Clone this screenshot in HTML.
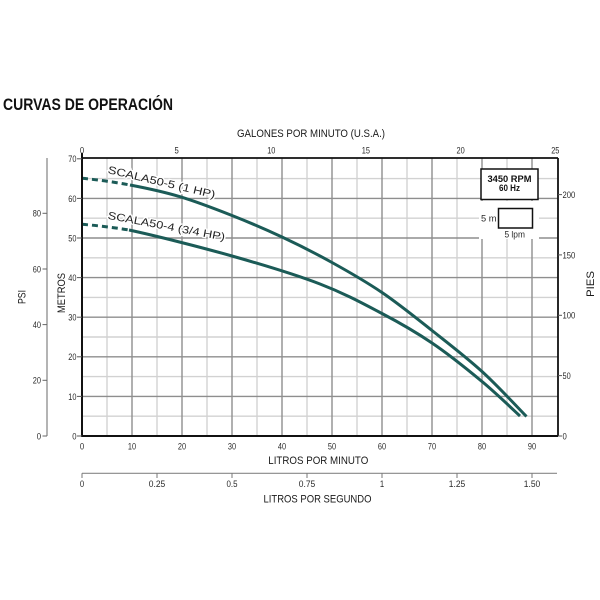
<!DOCTYPE html>
<html><head><meta charset="utf-8"><style>
html,body{margin:0;padding:0;background:#fff;width:600px;height:600px;overflow:hidden}
svg{display:block}
text{font-family:"Liberation Sans",sans-serif;fill:#2a2a2a}
.n{font-size:9.5px}
.t{font-size:11px;fill:#1a1a1a}
</style></head><body>
<svg width="600" height="600" viewBox="0 0 600 600" xmlns="http://www.w3.org/2000/svg">
<rect width="600" height="600" fill="#fff"/>
<!-- title -->
<text x="3" y="110" font-size="16.5" font-weight="bold" style="fill:#111" textLength="170" lengthAdjust="spacingAndGlyphs">CURVAS DE OPERACIÓN</text>

<!-- grid light -->
<g stroke="#d2d2d2" stroke-width="1.4">
<line x1="107" y1="158" x2="107" y2="436"/><line x1="157" y1="158" x2="157" y2="436"/>
<line x1="207" y1="158" x2="207" y2="436"/><line x1="257" y1="158" x2="257" y2="436"/>
<line x1="307" y1="158" x2="307" y2="436"/><line x1="357" y1="158" x2="357" y2="436"/>
<line x1="407" y1="158" x2="407" y2="436"/><line x1="457" y1="158" x2="457" y2="436"/>
<line x1="507" y1="158" x2="507" y2="436"/>
<line x1="82" y1="416.2" x2="558" y2="416.2"/><line x1="82" y1="376.6" x2="558" y2="376.6"/>
<line x1="82" y1="337" x2="558" y2="337"/><line x1="82" y1="297.4" x2="558" y2="297.4"/>
<line x1="82" y1="257.8" x2="558" y2="257.8"/><line x1="82" y1="218.2" x2="558" y2="218.2"/>
<line x1="82" y1="178.6" x2="558" y2="178.6"/>
</g>
<!-- grid dark -->
<g stroke="#8e8e8e" stroke-width="1.4">
<line x1="132" y1="158" x2="132" y2="436"/><line x1="182" y1="158" x2="182" y2="436"/>
<line x1="232" y1="158" x2="232" y2="436"/><line x1="282" y1="158" x2="282" y2="436"/>
<line x1="332" y1="158" x2="332" y2="436"/><line x1="382" y1="158" x2="382" y2="436"/>
<line x1="432" y1="158" x2="432" y2="436"/><line x1="482" y1="158" x2="482" y2="436"/>
<line x1="532" y1="158" x2="532" y2="436"/>
<line x1="82" y1="396.4" x2="558" y2="396.4"/><line x1="82" y1="356.8" x2="558" y2="356.8"/>
<line x1="82" y1="317.2" x2="558" y2="317.2"/><line x1="82" y1="277.6" x2="558" y2="277.6"/>
<line x1="82" y1="238" x2="558" y2="238"/><line x1="82" y1="198.4" x2="558" y2="198.4"/>
</g>

<!-- legend -->
<rect x="479" y="201" width="60" height="38" fill="#fff"/>
<rect x="481" y="169" width="57" height="30.5" fill="#fff" stroke="#111" stroke-width="1.5"/>
<text x="509.5" y="181.8" font-size="8.8" font-weight="bold" text-anchor="middle" style="fill:#111" textLength="44" lengthAdjust="spacingAndGlyphs">3450 RPM</text>
<text x="509.5" y="191" font-size="8.8" font-weight="bold" text-anchor="middle" style="fill:#111" textLength="21" lengthAdjust="spacingAndGlyphs">60 Hz</text>
<rect x="498.5" y="208.5" width="34" height="19.5" fill="#fff" stroke="#111" stroke-width="1.5"/>
<text x="496.5" y="221.3" font-size="9.5" text-anchor="end" textLength="15.5" lengthAdjust="spacingAndGlyphs">5 m</text>
<text x="514.7" y="237.6" font-size="9.5" text-anchor="middle" textLength="20.5" lengthAdjust="spacingAndGlyphs">5 lpm</text>

<!-- curves -->
<g fill="none" stroke="#1b5b57" stroke-width="3">
<path d="M82,178.3 Q106,180.5 130,185" stroke-dasharray="6 4"/>
<path d="M130,185 C146.3,188.1 163,191.6 180,196.7 C197,201.8 215,208.8 232,215.5 C249,222.2 265.3,229.2 282,237 C298.7,244.8 315.3,253.25 332,262.5 C348.7,271.75 365.3,281.2 382,292.5 C398.7,303.8 415.3,317.3 432,330.5 C448.7,343.7 466.25,357.2 482,371.5 C497.75,385.8 519.1,409 526.5,416.5"/>
<path d="M82,224.3 Q105.5,226.2 129,230" stroke-dasharray="6 4"/>
<path d="M129,230 C154,235.3 200.2,247 232,256 C263.8,265 295,274.4 320,284 C345,293.6 363.3,303.7 382,313.5 C400.7,323.3 415.3,331.7 432,343 C448.7,354.3 467.3,369.3 482,381.5 C496.7,393.7 513.7,410.25 520,416"/>
</g>
<!-- curve labels -->
<text transform="translate(107.3,173) rotate(13.3)" font-size="10.7" style="fill:#222;stroke:#fff;stroke-width:2.5;paint-order:stroke" textLength="110" lengthAdjust="spacingAndGlyphs">SCALA50-5 (1 HP)</text>
<text transform="translate(107.3,218.7) rotate(10.6)" font-size="10.7" style="fill:#222;stroke:#fff;stroke-width:2.5;paint-order:stroke" textLength="119" lengthAdjust="spacingAndGlyphs">SCALA50-4 (3/4 HP)</text>

<!-- plot borders -->
<line x1="82" y1="158" x2="558" y2="158" stroke="#111" stroke-width="1.8"/>
<line x1="558" y1="158" x2="558" y2="436" stroke="#111" stroke-width="1.8"/>
<line x1="82" y1="153" x2="82" y2="437" stroke="#111" stroke-width="2"/>
<line x1="81" y1="436" x2="558" y2="436" stroke="#111" stroke-width="2"/>

<!-- METROS ticks -->
<g stroke="#555" stroke-width="1">
<line x1="77" y1="436" x2="82" y2="436"/><line x1="77" y1="396.4" x2="82" y2="396.4"/>
<line x1="77" y1="356.8" x2="82" y2="356.8"/><line x1="77" y1="317.2" x2="82" y2="317.2"/>
<line x1="77" y1="277.6" x2="82" y2="277.6"/><line x1="77" y1="238" x2="82" y2="238"/>
<line x1="77" y1="198.4" x2="82" y2="198.4"/><line x1="77" y1="158.8" x2="82" y2="158.8"/>
</g>
<g class="n" text-anchor="end">
<text x="76.5" y="439.4" textLength="4.3" lengthAdjust="spacingAndGlyphs">0</text>
<text x="76.5" y="399.8" textLength="8.2" lengthAdjust="spacingAndGlyphs">10</text>
<text x="76.5" y="360.2" textLength="8.2" lengthAdjust="spacingAndGlyphs">20</text>
<text x="76.5" y="320.6" textLength="8.2" lengthAdjust="spacingAndGlyphs">30</text>
<text x="76.5" y="281" textLength="8.2" lengthAdjust="spacingAndGlyphs">40</text>
<text x="76.5" y="241.4" textLength="8.2" lengthAdjust="spacingAndGlyphs">50</text>
<text x="76.5" y="201.8" textLength="8.2" lengthAdjust="spacingAndGlyphs">60</text>
<text x="76.5" y="162.2" textLength="8.2" lengthAdjust="spacingAndGlyphs">70</text>
</g>

<!-- PSI axis -->
<line x1="47" y1="158" x2="47" y2="436" stroke="#777" stroke-width="1.1"/>
<g stroke="#666" stroke-width="1">
<line x1="42.5" y1="436" x2="47" y2="436"/><line x1="42.5" y1="380.3" x2="47" y2="380.3"/>
<line x1="42.5" y1="324.6" x2="47" y2="324.6"/><line x1="42.5" y1="269" x2="47" y2="269"/>
<line x1="42.5" y1="213.3" x2="47" y2="213.3"/>
</g>
<g class="n" text-anchor="end">
<text x="41" y="439.4" textLength="4.3" lengthAdjust="spacingAndGlyphs">0</text>
<text x="41" y="383.7" textLength="8.2" lengthAdjust="spacingAndGlyphs">20</text>
<text x="41" y="328" textLength="8.2" lengthAdjust="spacingAndGlyphs">40</text>
<text x="41" y="272.4" textLength="8.2" lengthAdjust="spacingAndGlyphs">60</text>
<text x="41" y="216.7" textLength="8.2" lengthAdjust="spacingAndGlyphs">80</text>
</g>

<!-- PIES ticks -->
<g stroke="#555" stroke-width="1">
<line x1="558" y1="436" x2="562" y2="436"/><line x1="558" y1="375.6" x2="562" y2="375.6"/>
<line x1="558" y1="315.3" x2="562" y2="315.3"/><line x1="558" y1="254.9" x2="562" y2="254.9"/>
<line x1="558" y1="194.6" x2="562" y2="194.6"/>
</g>
<g class="n">
<text x="562.5" y="439.4" textLength="4.3" lengthAdjust="spacingAndGlyphs">0</text>
<text x="562.5" y="379" textLength="8.2" lengthAdjust="spacingAndGlyphs">50</text>
<text x="562.5" y="318.7" textLength="12.8" lengthAdjust="spacingAndGlyphs">100</text>
<text x="562.5" y="258.3" textLength="12.8" lengthAdjust="spacingAndGlyphs">150</text>
<text x="562.5" y="198" textLength="12.8" lengthAdjust="spacingAndGlyphs">200</text>
</g>

<!-- top GPM labels -->
<g class="n" text-anchor="middle">
<text x="82" y="153.5" textLength="4.3" lengthAdjust="spacingAndGlyphs">0</text>
<text x="176.6" y="153.5" textLength="4.3" lengthAdjust="spacingAndGlyphs">5</text>
<text x="271.3" y="153.5" textLength="8.2" lengthAdjust="spacingAndGlyphs">10</text>
<text x="365.9" y="153.5" textLength="8.2" lengthAdjust="spacingAndGlyphs">15</text>
<text x="460.6" y="153.5" textLength="8.2" lengthAdjust="spacingAndGlyphs">20</text>
<text x="555.3" y="153.5" textLength="8.2" lengthAdjust="spacingAndGlyphs">25</text>
</g>

<!-- bottom LPM labels -->
<g class="n" text-anchor="middle">
<text x="82" y="449.5" textLength="4.3" lengthAdjust="spacingAndGlyphs">0</text>
<text x="132" y="449.5" textLength="8.2" lengthAdjust="spacingAndGlyphs">10</text>
<text x="182" y="449.5" textLength="8.2" lengthAdjust="spacingAndGlyphs">20</text>
<text x="232" y="449.5" textLength="8.2" lengthAdjust="spacingAndGlyphs">30</text>
<text x="282" y="449.5" textLength="8.2" lengthAdjust="spacingAndGlyphs">40</text>
<text x="332" y="449.5" textLength="8.2" lengthAdjust="spacingAndGlyphs">50</text>
<text x="382" y="449.5" textLength="8.2" lengthAdjust="spacingAndGlyphs">60</text>
<text x="432" y="449.5" textLength="8.2" lengthAdjust="spacingAndGlyphs">70</text>
<text x="482" y="449.5" textLength="8.2" lengthAdjust="spacingAndGlyphs">80</text>
<text x="532" y="449.5" textLength="8.2" lengthAdjust="spacingAndGlyphs">90</text>
</g>

<!-- LPS axis -->
<line x1="82" y1="473.3" x2="557" y2="473.3" stroke="#888" stroke-width="1.2"/>
<g stroke="#777" stroke-width="1">
<line x1="82" y1="473.3" x2="82" y2="478"/><line x1="157" y1="473.3" x2="157" y2="478"/>
<line x1="232" y1="473.3" x2="232" y2="478"/><line x1="307" y1="473.3" x2="307" y2="478"/>
<line x1="382" y1="473.3" x2="382" y2="478"/><line x1="457" y1="473.3" x2="457" y2="478"/>
<line x1="532" y1="473.3" x2="532" y2="478"/>
</g>
<g class="n" text-anchor="middle">
<text x="82" y="487" textLength="4.3" lengthAdjust="spacingAndGlyphs">0</text>
<text x="157" y="487" textLength="16.5" lengthAdjust="spacingAndGlyphs">0.25</text>
<text x="232" y="487" textLength="11" lengthAdjust="spacingAndGlyphs">0.5</text>
<text x="307" y="487" textLength="16.5" lengthAdjust="spacingAndGlyphs">0.75</text>
<text x="382" y="487" textLength="4.3" lengthAdjust="spacingAndGlyphs">1</text>
<text x="457" y="487" textLength="16.5" lengthAdjust="spacingAndGlyphs">1.25</text>
<text x="532" y="487" textLength="16.5" lengthAdjust="spacingAndGlyphs">1.50</text>
</g>

<!-- axis titles -->
<text class="t" x="311" y="137" text-anchor="middle" textLength="148" lengthAdjust="spacingAndGlyphs">GALONES POR MINUTO (U.S.A.)</text>
<text class="t" x="318.3" y="464" text-anchor="middle" textLength="100" lengthAdjust="spacingAndGlyphs">LITROS POR MINUTO</text>
<text class="t" x="317.5" y="502.5" text-anchor="middle" textLength="108" lengthAdjust="spacingAndGlyphs">LITROS POR SEGUNDO</text>
<text class="t" transform="translate(25.5,297) rotate(-90)" text-anchor="middle" textLength="14" lengthAdjust="spacingAndGlyphs">PSI</text>
<text class="t" transform="translate(65,293) rotate(-90)" text-anchor="middle" textLength="40" lengthAdjust="spacingAndGlyphs">METROS</text>
<text class="t" transform="translate(594,284) rotate(-90)" text-anchor="middle" textLength="26" lengthAdjust="spacingAndGlyphs">PIES</text>
</svg>
</body></html>
